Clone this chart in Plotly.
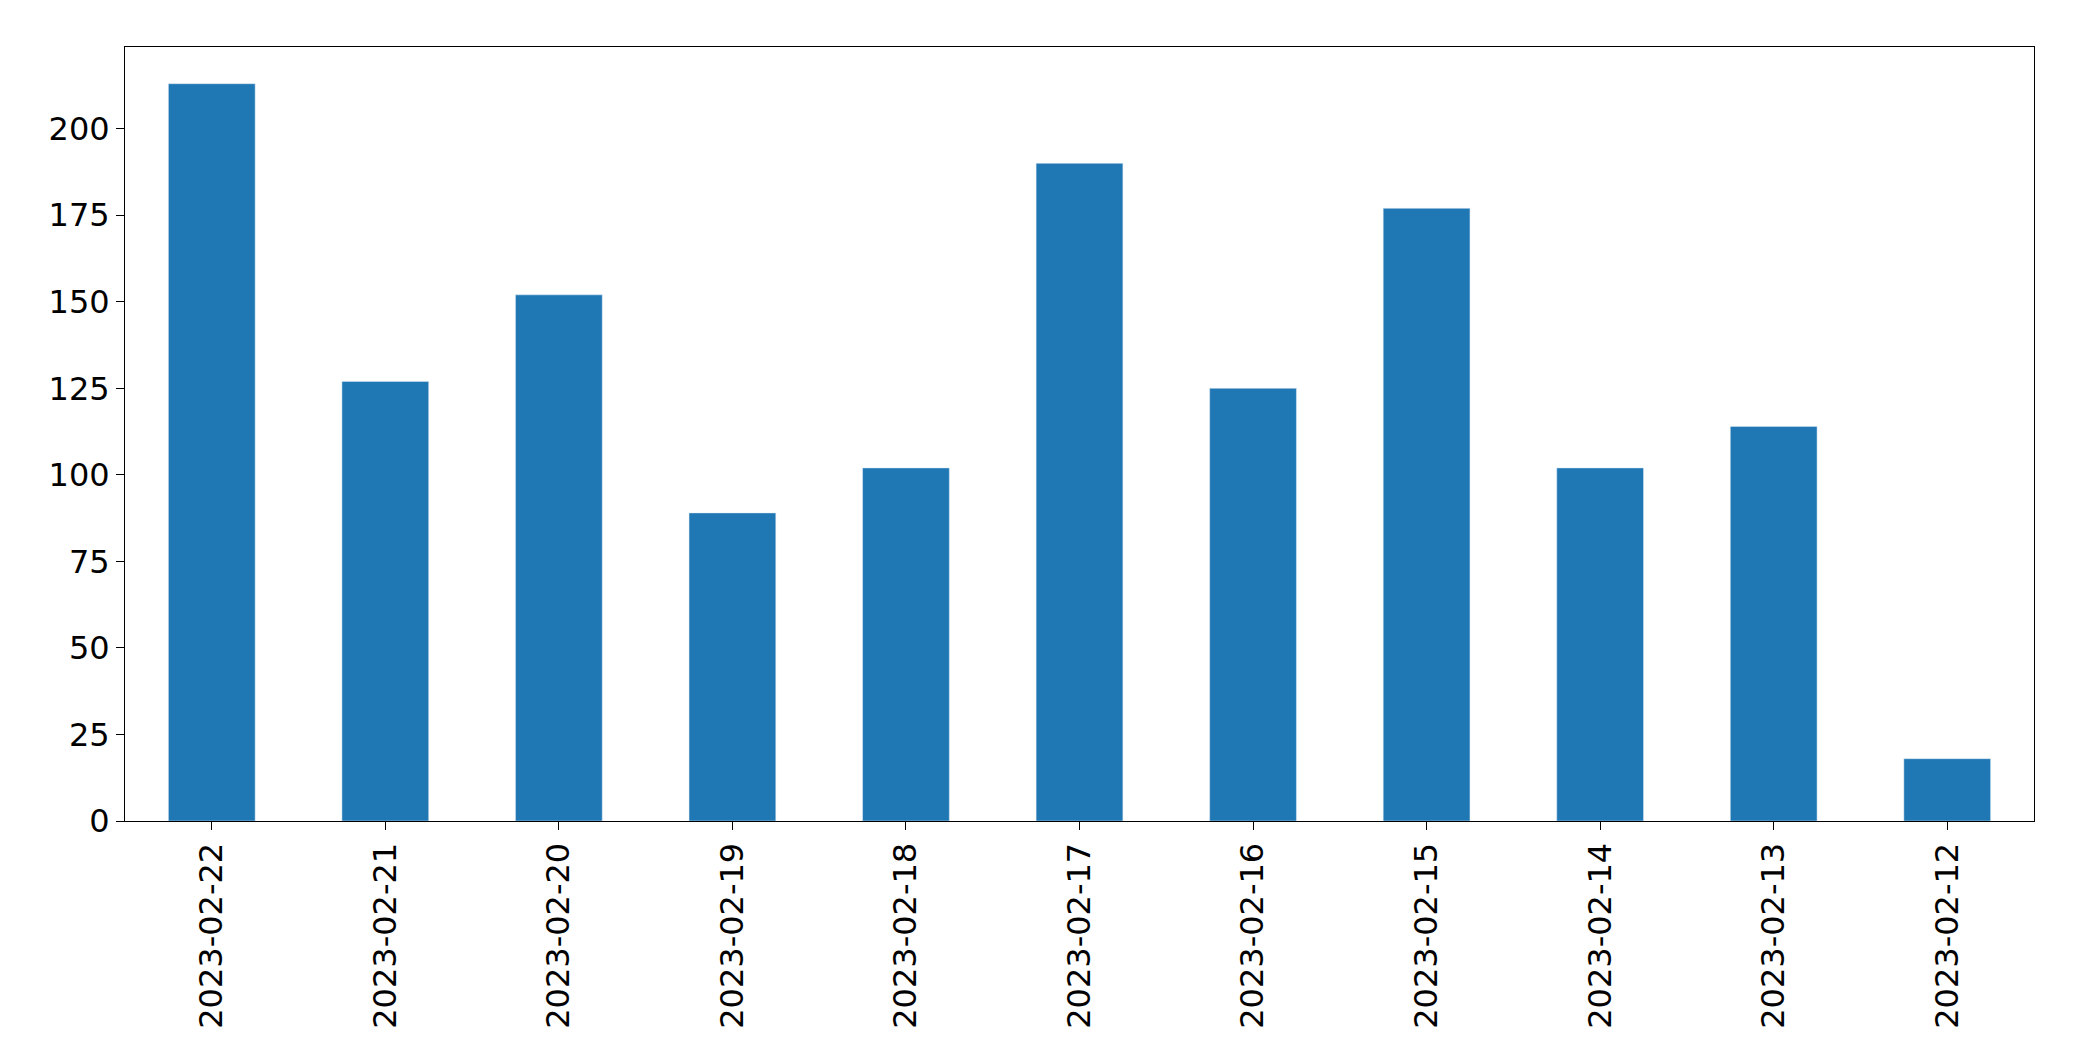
import plotly.graph_objects as go

dates = ["2023-02-22","2023-02-21","2023-02-20","2023-02-19","2023-02-18","2023-02-17",
         "2023-02-16","2023-02-15","2023-02-14","2023-02-13","2023-02-12"]
counts = [213, 127, 152, 89, 102, 190, 125, 177, 102, 114, 18]

fig = go.Figure(go.Bar(x=dates, y=counts, marker_color="#1f77b4", width=0.5))
fig.update_layout(
    width=2093, height=1061, plot_bgcolor="white", paper_bgcolor="white",
    margin=dict(l=117, r=67, t=39, b=248),
    font=dict(family="DejaVu Sans", size=32, color="black"),
    showlegend=False,
)
fig.update_xaxes(type="category", tickangle=-90, showline=True, linecolor="black", mirror=True,
                 ticks="outside", ticklen=8, tickcolor="black", range=[-0.5, 10.5])
fig.update_yaxes(range=[0, 223.6], tickvals=list(range(0, 201, 25)), showgrid=False, zeroline=False,
                 showline=True, linecolor="black", mirror=True, ticks="outside", ticklen=8, tickcolor="black")
fig.write_html("out.html")
